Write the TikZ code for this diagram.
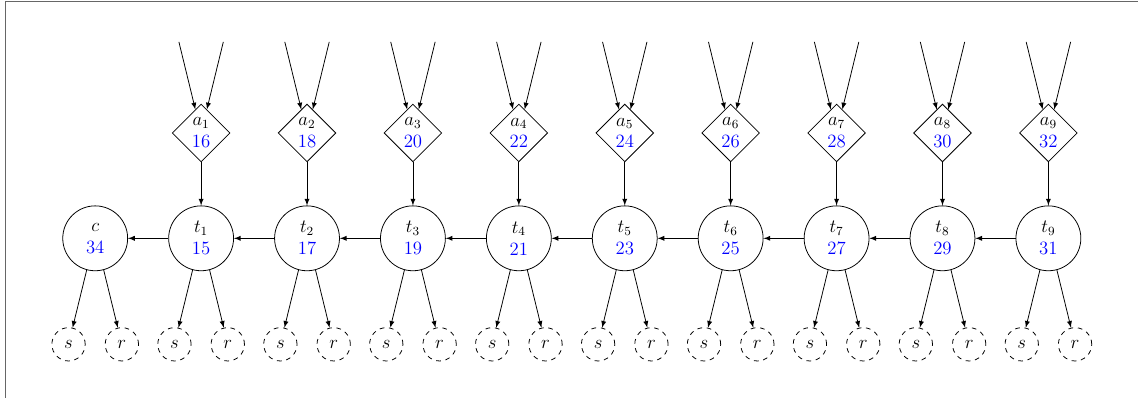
\documentclass[tikz,border=0pt]{standalone}
\usepackage{tikz}
\usepackage{color}
\usetikzlibrary{positioning}
\usetikzlibrary{arrows,shapes}
\tikzstyle{task}=[circle,draw,minimum size=1.46cm,inner sep=0pt,align=center,font=\large]
\tikzstyle{action}=[diamond,draw,minimum size=1.3cm,inner sep=0pt,align=center,font=\large]
\tikzstyle{leaf}=[circle,draw,dashed,minimum size=0.75cm,inner sep=0pt,font=\large]
\tikzstyle{edge} = [draw,->,>=latex]
\tikzstyle{frame} = [draw,black!60]
\newcommand{\val}[1]{\textcolor{blue}{#1}}

\begin{document}
\begin{tikzpicture}[auto,swap,line width=0.5pt]
    % page size and the frame round it
    \useasboundingbox (-2.142,-3.593) rectangle (23.463,5.362);
    \coordinate (fr) at (23.463,5.32);
    \coordinate (fc) at (-2.03,5.32);
    \coordinate (fb) at (-2.03,-3.593);
    \path[frame] (fr) -- (fc) -- (fb);
    % First the collecting node c
    \node[task] (c) at (0,0) {$c$\\ \val{34}};
    \node[leaf] (cs) at (-0.6,-2.385) {$s$};
    \node[leaf] (cr) at (0.6,-2.385) {$r$};
    \path[edge] (c.-105) -- (cs);
    \path[edge] (c.-75) -- (cr);
    % Then the chain t1..t9, each with its action above and s, r below
    \foreach \i/\t/\a in {1/15/16, 2/17/18, 3/19/20, 4/21/22, 5/23/24, 6/25/26, 7/27/28, 8/29/30, 9/31/32}
    {
        \node[task] (t\i) at (\i*2.383,0) {$t_\i$\\ \val{\t}};
        \node[action] (a\i) at (\i*2.383,2.37) {$a_\i$\\ \val{\a}};
        \node[leaf] (s\i) at (\i*2.383-0.6,-2.385) {$s$};
        \node[leaf] (r\i) at (\i*2.383+0.6,-2.385) {$r$};
        \coordinate (a\i l) at (\i*2.383-0.5,4.42);
        \coordinate (a\i r) at (\i*2.383+0.5,4.42);
        \path[edge] (a\i l) -- (a\i);
        \path[edge] (a\i r) -- (a\i);
        \path[edge] (a\i) -- (t\i);
        \path[edge] (t\i.-105) -- (s\i);
        \path[edge] (t\i.-75) -- (r\i);
    }
    % Connect the chain from right to left
    \foreach \source/ \dest in {t1/c, t2/t1, t3/t2, t4/t3, t5/t4, t6/t5, t7/t6, t8/t7, t9/t8}
        \path[edge] (\source) -- (\dest);
\end{tikzpicture}
\end{document}
